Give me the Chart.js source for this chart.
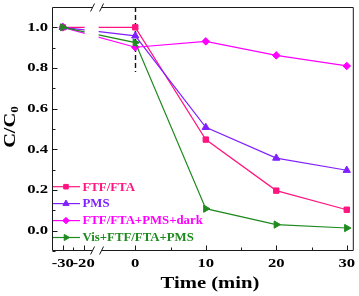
<!DOCTYPE html>
<html><head><meta charset="utf-8">
<script src="https://cdn.jsdelivr.net/npm/chart.js@4/dist/chart.umd.min.js"></script>
<style>html,body{margin:0;padding:0;background:#fff;}#wrap{width:359px;height:296px;}</style>
</head><body><div id="wrap"><canvas id="c" width="359" height="296"></canvas></div>
<script>
// ---- data ----
const times = [-30, 0, 10, 20, 30];
const ftfFta = [1.0, 1.0, 0.448, 0.197, 0.103];
const pms = [1.0, 0.958, 0.508, 0.357, 0.297];
const ftfFtaPmsDark = [1.0, 0.902, 0.931, 0.862, 0.810];
const visFtfFtaPms = [1.0, 0.925, 0.108, 0.030, 0.013];
const seriesNames = ['FTF/FTA', 'PMS', 'FTF/FTA+PMS+dark', 'Vis+FTF/FTA+PMS'];
const xTickValues = [-30, -20, 0, 10, 20, 30];
const xMinorValues = [-25, 5, 15, 25];
const yTickValues = [0.0, 0.2, 0.4, 0.6, 0.8, 1.0];
const yMinorValues = [-0.1, 0.1, 0.3, 0.5, 0.7, 0.9];
const xTitle = 'Time (min)';
const yTitleMain = 'C/C';
const yTitleSub = '0';

// ---- broken x scale ----
const LEFT_RANGE = [-35.2, -13.3];
const RIGHT_RANGE = [-5.35, 31];
const BREAK_FRAC = 0.151;
class BrokenScale extends Chart.LinearScale {
  getPixelForValue(v) {
    const a = this.left, w = this.width;
    if (v <= LEFT_RANGE[1]) return a + BREAK_FRAC * w * (v - LEFT_RANGE[0]) / (LEFT_RANGE[1] - LEFT_RANGE[0]);
    return a + BREAK_FRAC * w + (1 - BREAK_FRAC) * w * (v - RIGHT_RANGE[0]) / (RIGHT_RANGE[1] - RIGHT_RANGE[0]);
  }
  getValueForPixel(p) {
    const a = this.left, w = this.width, bp = a + BREAK_FRAC * w;
    if (p <= bp) return LEFT_RANGE[0] + (p - a) / (BREAK_FRAC * w) * (LEFT_RANGE[1] - LEFT_RANGE[0]);
    return RIGHT_RANGE[0] + (p - bp) / ((1 - BREAK_FRAC) * w) * (RIGHT_RANGE[1] - RIGHT_RANGE[0]);
  }
}
BrokenScale.id = 'broken';
BrokenScale.defaults = Chart.LinearScale.defaults;
Chart.register(BrokenScale);

const colors = ['#FF1480', '#8020FF', '#FF00FF', '#1F8A1F'];
const styles = [
  {pointStyle: 'rect', radius: 3.8, rotation: 0},
  {pointStyle: 'triangle', radius: 4.2, rotation: 0},
  {pointStyle: 'rectRot', radius: 3.8, rotation: 0},
  {pointStyle: 'triangle', radius: 4.2, rotation: 90}
];
const allSeries = [ftfFta, pms, ftfFtaPmsDark, visFtfFtaPms];
const drawOrder = [3, 2, 1, 0];

const datasets = allSeries.map((arr, i) => ({
  label: seriesNames[i],
  data: times.map((t, j) => ({x: t, y: arr[j]})),
  borderColor: colors[i],
  backgroundColor: colors[i],
  borderWidth: 1.2,
  pointStyle: styles[i].pointStyle,
  pointRadius: styles[i].radius,
  pointRotation: styles[i].rotation,
  pointBorderWidth: 1,
  pointBackgroundColor: colors[i],
  pointBorderColor: colors[i],
  tension: 0,
  order: drawOrder[i]
}));

const SERIF = '"Liberation Serif", "Times New Roman", serif';
function txt(ctx, s, x, y, size, color, align, sx, baseline) {
  ctx.save();
  ctx.font = 'bold ' + size + 'px ' + SERIF;
  ctx.fillStyle = color;
  ctx.textAlign = align;
  ctx.textBaseline = baseline || 'middle';
  ctx.translate(x, y);
  ctx.scale(sx, 1);
  ctx.fillText(s, 0, 0);
  ctx.restore();
}

const decor = {
  id: 'decor',
  beforeDatasetsDraw(chart) {
    const ctx = chart.ctx, xs = chart.scales.x, ys = chart.scales.y, ca = chart.chartArea;
    const x0 = Math.round(xs.getPixelForValue(0)) + 0.5;
    ctx.save();
    ctx.strokeStyle = '#111';
    ctx.lineWidth = 1.4;
    ctx.setLineDash([5, 3]);
    ctx.beginPath();
    ctx.moveTo(x0, ca.top);
    ctx.lineTo(x0, ys.getPixelForValue(0.78));
    ctx.stroke();
    ctx.restore();
  },
  afterDatasetsDraw(chart) {
    const ctx = chart.ctx, xs = chart.scales.x, ys = chart.scales.y;
    // gap in the lines at the axis break
    const gx0 = xs.getPixelForValue(-19.5), gx1 = xs.getPixelForValue(-5.2);
    const gy0 = ys.getPixelForValue(1.03), gy1 = ys.getPixelForValue(0.87);
    ctx.save();
    ctx.fillStyle = '#fff';
    ctx.fillRect(gx0, gy0, gx1 - gx0, gy1 - gy0);
    ctx.restore();
  },
  afterDraw(chart) {
    const ctx = chart.ctx, xs = chart.scales.x, ys = chart.scales.y, ca = chart.chartArea;
    const L = ca.left + 0.5, R = ca.right - 0.5, T = ca.top + 0.5, B = ca.bottom - 0.5;
    const bp = xs.left + BREAK_FRAC * xs.width;
    const g0 = bp - 5, g1 = bp + 4;
    ctx.save();
    ctx.strokeStyle = '#1a1a1a';
    ctx.lineWidth = 1;
    ctx.beginPath();
    // left, right
    ctx.moveTo(L, T); ctx.lineTo(L, B);
    ctx.moveTo(R, T); ctx.lineTo(R, B);
    // top and bottom with break
    ctx.moveTo(L, T); ctx.lineTo(g0, T);
    ctx.moveTo(g1, T); ctx.lineTo(R, T);
    ctx.moveTo(L, B); ctx.lineTo(g0, B);
    ctx.moveTo(g1, B); ctx.lineTo(R, B);
    // break slashes
    [T, B].forEach(yy => {
      ctx.moveTo(g0 - 2, yy + 4); ctx.lineTo(g0 + 2, yy - 4);
      ctx.moveTo(g1 - 2, yy + 4); ctx.lineTo(g1 + 2, yy - 4);
    });
    // y ticks (inward)
    yTickValues.forEach(v => { const y = Math.round(ys.getPixelForValue(v)) + 0.5; ctx.moveTo(L, y); ctx.lineTo(L + 5, y); });
    yMinorValues.forEach(v => { const y = Math.round(ys.getPixelForValue(v)) + 0.5; ctx.moveTo(L, y); ctx.lineTo(L + 3, y); });
    // x ticks (inward)
    xTickValues.forEach(v => { const x = Math.round(xs.getPixelForValue(v)) + 0.5; ctx.moveTo(x, B); ctx.lineTo(x, B - 5); });
    xMinorValues.forEach(v => { const x = Math.round(xs.getPixelForValue(v)) + 0.5; ctx.moveTo(x, B); ctx.lineTo(x, B - 3); });
    ctx.stroke();
    ctx.restore();

    // tick labels
    yTickValues.forEach(v => txt(ctx, v.toFixed(1), 48, ys.getPixelForValue(v) + 0.5, 11.5, '#000', 'right', 1.45));
    xTickValues.forEach(v => txt(ctx, String(v), xs.getPixelForValue(v), 264, 11.5, '#000', 'center', 1.45));

    // axis titles
    txt(ctx, xTitle, 210, 288, 17.5, '#000', 'center', 1.18, 'alphabetic');
    ctx.save();
    ctx.translate(14.5, 127);
    ctx.rotate(-Math.PI / 2);
    ctx.scale(1.2, 1);
    ctx.font = 'bold 17px ' + SERIF;
    const wMain = ctx.measureText(yTitleMain).width;
    ctx.font = 'bold 11px ' + SERIF;
    const wSub = ctx.measureText(yTitleSub).width;
    const start = -(wMain + wSub) / 2;
    ctx.fillStyle = '#000';
    ctx.textBaseline = 'alphabetic';
    ctx.textAlign = 'left';
    ctx.font = 'bold 17px ' + SERIF;
    ctx.fillText(yTitleMain, start, 0);
    ctx.font = 'bold 11px ' + SERIF;
    ctx.fillText(yTitleSub, start + wMain, 3.5);
    ctx.restore();

    // legend
    const legY = [186.7, 203.6, 220.6, 237.5];
    seriesNames.forEach((name, i) => {
      const y = legY[i];
      ctx.save();
      ctx.strokeStyle = colors[i];
      ctx.lineWidth = 1.2;
      ctx.beginPath();
      ctx.moveTo(53, y); ctx.lineTo(80, y);
      ctx.stroke();
      ctx.fillStyle = colors[i];
      ctx.lineWidth = 1;
      Chart.helpers.drawPoint(ctx, {pointStyle: styles[i].pointStyle, radius: styles[i].radius * 0.85, rotation: styles[i].rotation, borderWidth: 1}, 66, y);
      ctx.restore();
      txt(ctx, name, 82.5, y + 0.5, 12.8, colors[i], 'left', 1.0);
    });
  }
};

new Chart(document.getElementById('c'), {
  type: 'line',
  data: {datasets},
  options: {
    responsive: false,
    animation: false,
    devicePixelRatio: 1,
    layout: {padding: {left: 52, right: 3, top: 7, bottom: 45}},
    plugins: {legend: {display: false}, tooltip: {enabled: false}},
    scales: {
      x: {type: 'broken', display: false, min: LEFT_RANGE[0], max: RIGHT_RANGE[1]},
      y: {type: 'linear', display: false, min: -0.1, max: 1.1}
    }
  },
  plugins: [decor]
});
</script>
</body></html>
